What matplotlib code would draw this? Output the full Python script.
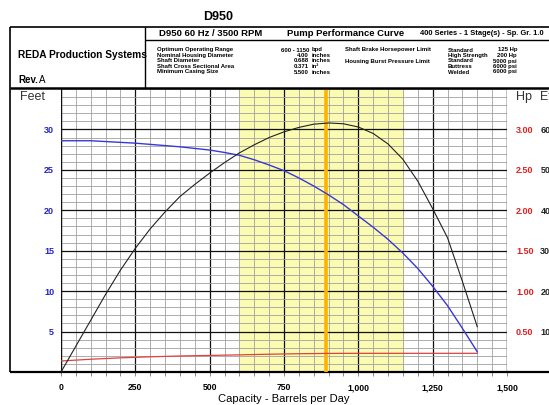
import matplotlib.pyplot as plt
from matplotlib.ticker import MultipleLocator, FixedLocator

plt.rcParams['font.family'] = ['Liberation Sans', 'DejaVu Sans']

# Pump curve data (capacity in barrels per day)
capacidad = [0, 50, 100, 150, 200, 250, 300, 350, 400, 450, 500, 550, 600, 650, 700, 750,
             800, 850, 900, 950, 1000, 1050, 1100, 1150, 1200, 1250, 1300, 1350, 1400]
altura_ft = [28.6, 28.6, 28.6, 28.5, 28.4, 28.3, 28.15, 28.0, 27.85, 27.65, 27.45, 27.15,
             26.8, 26.25, 25.6, 24.9, 24.0, 23.0, 21.9, 20.7, 19.3, 17.9, 16.4, 14.7, 12.8,
             10.6, 8.2, 5.4, 2.5]
eficiencia = [0, 6.4, 12.8, 19.2, 25.2, 30.6, 35.4, 39.6, 43.4, 46.4, 49.2, 51.8, 54.2,
              56.2, 58.0, 59.4, 60.5, 61.3, 61.6, 61.4, 60.6, 59.0, 56.4, 52.6, 47.2, 40.4,
              33.2, 22.4, 11.2]
cap_hp = [0, 100, 200, 300, 400, 500, 600, 700, 800, 900, 1000, 1100, 1200, 1300, 1400]
potencia_hp = [0.136, 0.158, 0.175, 0.188, 0.198, 0.205, 0.212, 0.22, 0.226, 0.23, 0.231,
               0.231, 0.231, 0.231, 0.231]

rango_optimo = (600, 1150)
bep = 890

xticks = [0, 250, 500, 750, 1000, 1250, 1500]
xtick_labels = ['0', '250', '500', '750', '1,000', '1,250', '1,500']
feet_ticks = [5, 10, 15, 20, 25, 30]
hp_ticks = [0.5, 1.0, 1.5, 2.0, 2.5, 3.0]
eff_ticks = [10, 20, 30, 40, 50, 60]

W, H = 549, 405
fig = plt.figure(figsize=(W / 100, H / 100), dpi=100)

# --- main grid area ---
ax = fig.add_axes([61 / W, 1 - 372 / H, (507 - 61) / W, (372 - 89) / H])
ax.set_xlim(0, 1500)
ax.set_ylim(0, 35)
ax.set_axisbelow(True)
ax.xaxis.set_major_locator(FixedLocator(xticks))
ax.xaxis.set_minor_locator(MultipleLocator(50))
ax.yaxis.set_major_locator(FixedLocator(feet_ticks))
ax.yaxis.set_minor_locator(MultipleLocator(1))
ax.grid(which='minor', color='#a0a0a0', lw=0.6)
ax.grid(which='major', color='#111111', lw=0.9)
ax.axvline(0, color='#111111', lw=0.9)
ax.axvline(1500, color='#111111', lw=0.9)
for s in ['top', 'right', 'left']:
    ax.spines[s].set_visible(False)
ax.spines['bottom'].set_linewidth(1.6)
ax.set_xticklabels(xtick_labels, fontsize=6.2, fontweight='bold')
ax.set_yticklabels([str(t) for t in feet_ticks], fontsize=6.5, fontweight='bold', color='#2424c8')
ax.tick_params(axis='x', which='both', length=3, width=0.6, color='#777777', pad=5)
ax.tick_params(axis='y', which='both', length=0, pad=5)
ax.set_xlabel('Capacity - Barrels per Day', fontsize=8, labelpad=1)

ax.axvspan(rango_optimo[0], rango_optimo[1], color='#fbfbb2', zorder=0.2)
ax.axvline(bep, color='#ffb300', lw=2.6, zorder=3)

ax.plot(capacidad, altura_ft, color='#3838d8', lw=1.0, zorder=4)

ax_hp = ax.twinx()
ax_hp.set_ylim(0, 3.5)
ax_hp.plot(cap_hp, potencia_hp, color='#e04040', lw=0.9)
ax_hp.yaxis.set_major_locator(FixedLocator(hp_ticks))
ax_hp.set_yticklabels([f'{t:.2f}' for t in hp_ticks], fontsize=6.5, fontweight='bold', color='#e02020')
ax_hp.tick_params(axis='y', length=0, pad=6.5)

ax_eff = ax.twinx()
ax_eff.set_ylim(0, 70)
ax_eff.plot(capacidad, eficiencia, color='#222222', lw=0.8)
ax_eff.yaxis.set_major_locator(FixedLocator(eff_ticks))
ax_eff.set_yticklabels([str(t) for t in eff_ticks], fontsize=6.5, fontweight='bold', color='#222222')
ax_eff.tick_params(axis='y', length=0, pad=24)
for a in (ax_hp, ax_eff):
    for s in a.spines.values():
        s.set_visible(False)

# --- header block and frame (pixel coordinates) ---
ov = fig.add_axes([0, 0, 1, 1], zorder=5)
ov.set_xlim(0, W)
ov.set_ylim(H, 0)
ov.axis('off')
ov.patch.set_alpha(0)

k = dict(color='black', solid_capstyle='butt')
ov.plot([10, W], [27, 27], lw=1.2, **k)
ov.plot([145, W], [40, 40], lw=1.0, **k)
ov.plot([145, 145], [27, 88], lw=1.0, **k)
ov.plot([10, W], [88, 88], lw=1.8, **k)
ov.plot([10, 10], [27, 372], lw=1.2, **k)
ov.plot([10, 61], [372, 372], lw=1.6, **k)
ov.plot([507, W], [372, 372], lw=1.6, **k)

ov.text(218, 17, 'D950', fontsize=9, fontweight='bold', ha='center', va='center')
ov.text(18, 55, 'REDA Production Systems', fontsize=7.3, fontweight='bold', va='center')
ov.text(18, 80, 'Rev.', fontsize=7, fontweight='bold', va='center')
ov.text(38.5, 80, 'A', fontsize=7, va='center')

ov.text(211, 33, 'D950 60 Hz / 3500 RPM', fontsize=6.8, fontweight='bold', ha='center', va='center')
ov.text(346, 33, 'Pump Performance Curve', fontsize=6.8, fontweight='bold', ha='center', va='center')
ov.text(420, 33.5, '400 Series - 1 Stage(s) - Sp. Gr. 1.0', fontsize=5.4, fontweight='bold', va='center')

filas_y = [50, 55.5, 61, 66.5, 72]
nombres = ['Optimum Operating Range', 'Nominal Housing Diameter', 'Shaft Diameter',
           'Shaft Cross Sectional Area', 'Minimum Casing Size']
valores = ['600 - 1150', '4.00', '0.688', '0.371', '5.500']
unidades = ['bpd', 'inches', 'inches', 'in²', 'inches']
fs = 4.3
for y, n, v, u in zip(filas_y, nombres, valores, unidades):
    ov.text(157, y, n, fontsize=fs, fontweight='bold', va='center')
    ov.text(309, y, v, fontsize=fs, fontweight='bold', va='center', ha='right')
    ov.text(312, y, u, fontsize=fs, fontweight='bold', va='center')

ov.text(345, filas_y[0], 'Shaft Brake Horsepower Limit', fontsize=fs, fontweight='bold', va='center')
ov.text(345, filas_y[2], 'Housing Burst Pressure Limit', fontsize=fs, fontweight='bold', va='center')
tipos = ['Standard', 'High Strength', 'Standard', 'Buttress', 'Welded']
limites = ['125 Hp', '200 Hp', '5000 psi', '6000 psi', '6000 psi']
for y, t, l in zip(filas_y, tipos, limites):
    ov.text(448, y, t, fontsize=fs, fontweight='bold', va='center')
    ov.text(517, y, l, fontsize=fs, fontweight='bold', va='center', ha='right')

ov.text(20, 97, 'Feet', fontsize=9, color='#333333', va='center')
ov.text(516, 97, 'Hp', fontsize=9, color='#333333', va='center')
ov.text(540, 97, 'Eff', fontsize=9, color='#333333', va='center')

fig.savefig('out.png', dpi=100)
